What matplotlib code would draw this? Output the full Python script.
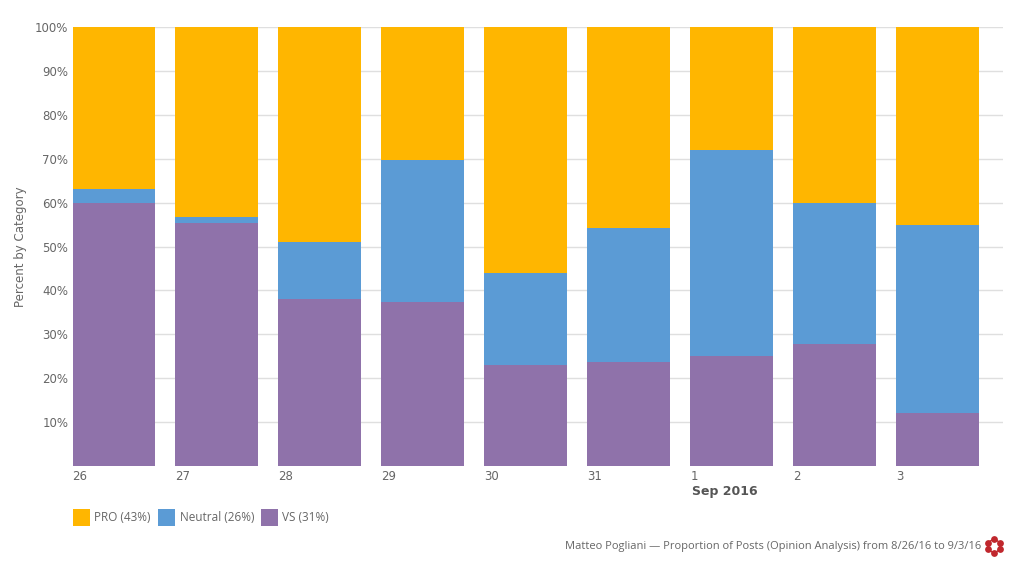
import numpy as np
import matplotlib
matplotlib.use('Agg')
import matplotlib.pyplot as plt
from matplotlib.patches import Rectangle

days = ['26', '27', '28', '29', '30', '31', '1', '2', '3']
vs = [60.0, 55.3, 38.0, 37.3, 23.0, 23.6, 25.0, 27.8, 12.0]
neutral = [3.0, 1.4, 13.0, 32.4, 21.0, 30.7, 47.0, 32.2, 43.0]
pro = [37.0, 43.3, 49.0, 30.3, 56.0, 45.7, 28.0, 40.0, 45.0]
y_ticks = [10, 20, 30, 40, 50, 60, 70, 80, 90, 100]
legend_labels = ['PRO (43%)', 'Neutral (26%)', 'VS (31%)']

col_pro = '#FFB600'
col_neutral = '#5B9BD5'
col_vs = '#8F72AA'
text_col = '#666666'
W, H = 1024, 576

fig = plt.figure(figsize=(W / 100, H / 100), dpi=100)
ax = fig.add_axes([72.5 / W, 1 - 466 / H, (1003 - 72.5) / W, (466 - 27) / H])

x = np.arange(len(days))
bottom2 = np.array(vs) + np.array(neutral)
for vals, bot, c in [(vs, 0, col_vs), (neutral, vs, col_neutral), (pro, bottom2, col_pro)]:
    ax.bar(x, vals, bottom=bot, width=0.8, color=c, edgecolor='none', zorder=3)

ax.set_xlim(-0.4, 8.634)
ax.set_ylim(0, 100)
ax.set_yticks(y_ticks)
ax.set_yticklabels([f'{v}%' for v in y_ticks], fontsize=8.5, color=text_col)
ax.set_xticks(x - 0.4)
ax.set_xticklabels(days, fontsize=8.5, color=text_col, ha='left')
ax.tick_params(axis='both', length=0)
ax.tick_params(axis='y', pad=3)
ax.tick_params(axis='x', pad=3)
ax.grid(axis='y', color='#dfdfdf', linewidth=1, zorder=0)
for s in ax.spines.values():
    s.set_visible(False)

ax.set_ylabel('Percent by Category', fontsize=8.5, color=text_col)
ax.yaxis.set_label_coords((27 - 72.5) / (1003 - 72.5), 0.5)

# sotto l'asse
fig.text(692 / W, 1 - 492 / H, 'Sep 2016', fontsize=9, fontweight='bold', color='#555555',
         ha='left', va='center')

# legenda fatta a mano
for lx, tx, c, lab in zip([72.5, 158, 261], [94, 179.5, 282.5], [col_pro, col_neutral, col_vs], legend_labels):
    fig.add_artist(Rectangle((lx / W, 1 - 526 / H), 17 / W, 17 / H, transform=fig.transFigure,
                             facecolor=c, edgecolor='none'))
    fig.text(tx / W, 1 - 517.5 / H, lab, fontsize=8.5, family='Open Sans', color=text_col,
             ha='left', va='center')

fig.text(981 / W, 1 - 546.5 / H, 'Matteo Pogliani — Proportion of Posts (Opinion Analysis) from 8/26/16 to 9/3/16',
         fontsize=8, family='Open Sans', color=text_col, ha='right', va='center')

# logo rosso
logo = fig.add_axes([984 / W, 1 - 556 / H, 20 / W, 20 / H])
logo.set_xlim(-1, 1)
logo.set_ylim(-1, 1)
logo.axis('off')
ang = np.pi / 2 + np.arange(6) * np.pi / 3
logo.scatter(0.68 * np.cos(ang), 0.68 * np.sin(ang), s=24, color='#C0272D', linewidths=0)
logo.plot(0.62 * np.cos(np.linspace(0, 2 * np.pi, 40)), 0.62 * np.sin(np.linspace(0, 2 * np.pi, 40)),
          color='#C0272D', lw=1)

fig.savefig('out.png', dpi=100)
